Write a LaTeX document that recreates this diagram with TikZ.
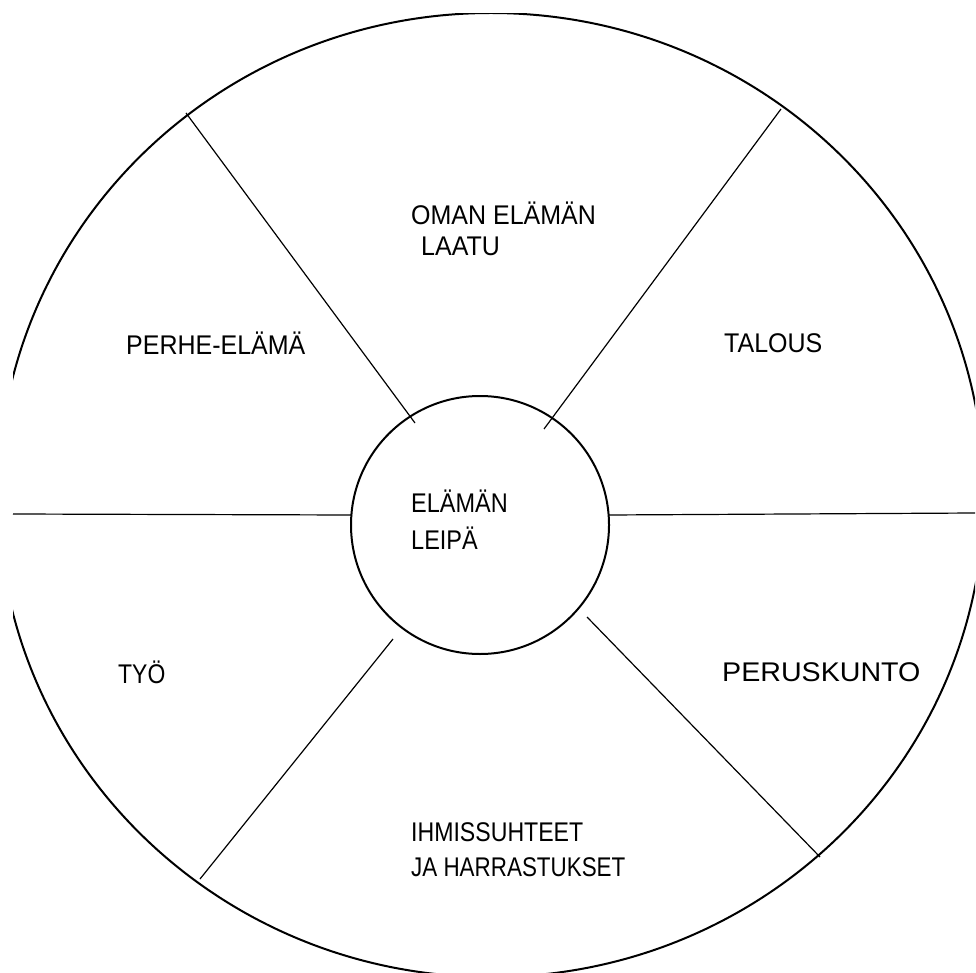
\documentclass[tikz,border=0pt]{standalone}
\usepackage{fontspec}
\setmainfont{Liberation Sans}
\begin{document}
\begin{tikzpicture}[x=1pt,y=-1pt,
  lbl/.style={anchor=west, inner sep=0pt, font=\fontsize{27}{32}\selectfont},
  spoke/.style={line width=1.2pt},
  ring/.style={line width=2pt}]
\useasboundingbox (0,0) rectangle (976,973);
\begin{scope}
  \clip (13,14) rectangle (975,972);
  \draw[ring] (491,495) ellipse [x radius=493, y radius=482];
\end{scope}
\node[ring, draw, circle, minimum size=258pt, inner sep=0pt] (core) at (480,525) {};
\node[lbl] (coreA) at (411,501) {\scalebox{0.87}[1]{ELÄMÄN}};
\node[lbl] (coreB) at (411,538) {\scalebox{0.87}[1]{LEIPÄ}};
% spoke end points
\coordinate (ulo) at (186,113);  \coordinate (uli) at (415,423);
\coordinate (uro) at (781,109);  \coordinate (uri) at (544,429);
\coordinate (lo)  at (13,514);   \coordinate (li)  at (352,515);
\coordinate (ro)  at (975,513);  \coordinate (ri)  at (608,515);
\coordinate (llo) at (200,879);  \coordinate (lli) at (393,639);
\coordinate (lro) at (820,857);  \coordinate (lri) at (587,617);
\draw[spoke] (ulo) -- (uli);
\draw[spoke] (uro) -- (uri);
\draw[spoke] (lo) -- (li);
\draw[spoke] (ri) -- (ro);
\draw[spoke] (llo) -- (lli);
\draw[spoke] (lro) -- (lri);
% labels
\node[lbl] (omanA) at (411,213) {\scalebox{0.926}[1]{OMAN ELÄMÄN}};
\node[lbl] (omanB) at (421,246) {\scalebox{0.926}[1]{LAATU}};
\node[lbl] (perhe) at (126,343) {\scalebox{0.926}[1]{PERHE-ELÄMÄ}};
\node[lbl] (talous) at (724,343) {\scalebox{0.926}[1]{TALOUS}};
\node[lbl] (tyo) at (118,672) {\scalebox{0.85}[1]{TYÖ}};
\node[lbl] (perus) at (722,672) {\scalebox{1.06}[1]{PERUSKUNTO}};
\node[lbl] (ihmA) at (411,832) {\scalebox{0.856}[1]{IHMISSUHTEET}};
\node[lbl] (ihmB) at (411,867) {\scalebox{0.83}[1]{JA HARRASTUKSET}};
\end{tikzpicture}
\end{document}
